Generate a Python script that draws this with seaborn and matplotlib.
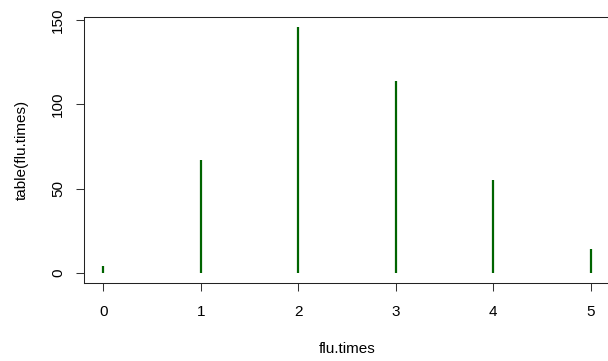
import matplotlib
matplotlib.use("Agg")
import matplotlib.pyplot as plt
import seaborn as sns
import pandas as pd

flu_times = [0, 1, 2, 3, 4, 5]
counts = [4, 67, 146, 114, 55, 14]
x_ticks = [0, 1, 2, 3, 4, 5]
y_ticks = [0, 50, 100, 150]

df = pd.DataFrame({"flu.times": flu_times, "count": counts})

sns.set_theme(style="white")
plt.rcParams['font.family'] = ['Liberation Sans', 'DejaVu Sans']
plt.rcParams['text.color'] = 'black'
plt.rcParams['axes.labelcolor'] = 'black'
plt.rcParams['xtick.color'] = 'black'
plt.rcParams['ytick.color'] = 'black'

W, H = 608, 361
left, right, top, bottom = 83.8, 610.3, 16.7, 283.0
fig = plt.figure(figsize=(W/100, H/100), dpi=100)
ax = fig.add_axes([left/W, 1 - bottom/H, (right-left)/W, (bottom-top)/H])

ax.vlines(df["flu.times"], 0, df["count"], color="#006400", linewidth=1.6)

ax.set_xlim(-0.2, 5.2)
ax.set_ylim(-5.84, 151.84)
ax.set_xticks(x_ticks)
ax.set_yticks(y_ticks)
ax.set_xticklabels([str(v) for v in x_ticks], fontsize=11)
ax.set_yticklabels([str(v) for v in y_ticks], fontsize=11, rotation=90, va="center")
ax.tick_params(axis="both", direction="out", length=5.5, width=0.75, color="#333333",
               bottom=True, left=True, labelcolor="black")
ax.tick_params(axis="x", pad=10)
ax.tick_params(axis="y", pad=8)
for s in ax.spines.values():
    s.set_visible(True)
    s.set_color("#222222")
    s.set_linewidth(0.75)

ax.set_xlabel("flu.times", fontsize=11, labelpad=17, color="black")
ax.set_ylabel("table(flu.times)", fontsize=11, labelpad=16, color="black")

fig.savefig("out.png", dpi=100)
